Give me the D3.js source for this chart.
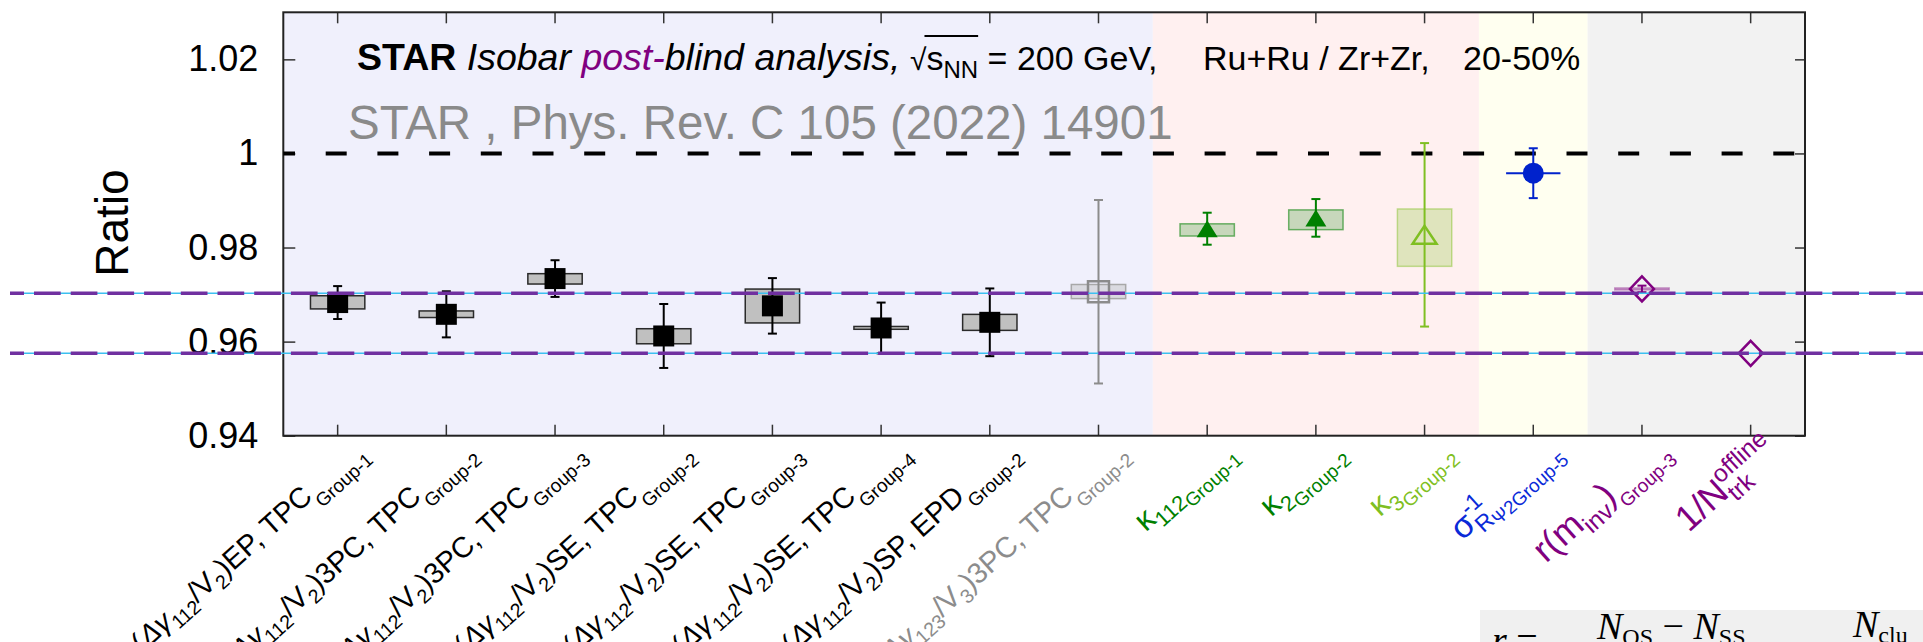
<!DOCTYPE html>
<html>
<head>
<meta charset="utf-8">
<script src="https://cdn.jsdelivr.net/npm/d3@7/dist/d3.min.js"></script>
<style>
  body { margin: 0; background: #fff; }
  svg { display: block; font-family: "Liberation Sans", Arial, Helvetica, sans-serif; }
</style>
</head>
<body>
<script>
// ---- chart data ----
const categories = [
  "g112_EP_TPC_G1", "g112_3PC_TPC_G2", "g112_3PC_TPC_G3", "g112_SE_TPC_G2",
  "g112_SE_TPC_G3", "g112_SE_TPC_G4", "g112_SP_EPD_G2", "g123_3PC_TPC_G2",
  "k112_G1", "k2_G2", "k3_G2", "sigmaR_G5", "rminv_G3", "invNtrk"
];
const family = [
  "gamma", "gamma", "gamma", "gamma", "gamma", "gamma", "gamma", "gamma",
  "kappa", "kappa", "kappa", "sigma", "mult", "mult"
];
const ratio   = [0.9683, 0.9658, 0.9734, 0.9612, 0.9676, 0.9629, 0.9641, 0.9706, 0.9840, 0.9863, 0.9827, 0.9958, 0.9712, 0.9575];
const statErr = [0.0035, 0.0049, 0.0039, 0.0068, 0.0059, 0.0054, 0.0072, 0.0195, 0.0034, 0.0040, 0.0195, 0.0053, 0.0007, 0];
const sysErr  = [0.0014, 0.0007, 0.0011, 0.0016, 0.0036, 0.0003, 0.0017, 0.0015, 0.0013, 0.0021, 0.0061, 0, 0.0002, 0];
const sysMid  = [0.96835, 0.96582, 0.97334, 0.96114, 0.96757, 0.96292, 0.96409, 0.97064, 0.98374, 0.98590, 0.98210, 0.9958, 0.9712, 0.9575];
const yTicks = [0.94, 0.96, 0.98, 1.00, 1.02];
const unityLine = 1.0;
const bandLines = [0.9703, 0.9575];

// tick labels: [text, kind] pieces; kinds: "" normal, "it" italic, "sub", "sup", "subb" (sub drawn back under a sup), "sub2"
const labelParts = [
  [["(", ""], ["Δγ", "it"], ["112", "sub"], ["/V", ""], ["2", "sub"], [")EP, TPC", ""]],
  [["(", ""], ["Δγ", "it"], ["112", "sub"], ["/V", ""], ["2", "sub"], [")3PC, TPC", ""]],
  [["(", ""], ["Δγ", "it"], ["112", "sub"], ["/V", ""], ["2", "sub"], [")3PC, TPC", ""]],
  [["(", ""], ["Δγ", "it"], ["112", "sub"], ["/V", ""], ["2", "sub"], [")SE, TPC", ""]],
  [["(", ""], ["Δγ", "it"], ["112", "sub"], ["/V", ""], ["2", "sub"], [")SE, TPC", ""]],
  [["(", ""], ["Δγ", "it"], ["112", "sub"], ["/V", ""], ["2", "sub"], [")SE, TPC", ""]],
  [["(", ""], ["Δγ", "it"], ["112", "sub"], ["/V", ""], ["2", "sub"], [")SP, EPD", ""]],
  [["(", ""], ["Δγ", "it"], ["123", "sub"], ["/V", ""], ["3", "sub"], [")3PC, TPC", ""]],
  [["κ", ""], ["112", "sub"]],
  [["κ", ""], ["2", "sub"]],
  [["κ", ""], ["3", "sub"]],
  [["σ", ""], ["-1", "sup"], ["R", "subb"], ["Ψ2", "sub2"]],
  [["r(m", ""], ["inv", "sub"], [")", ""]],
  [["1/N", ""], ["offline", "sup"], ["trk", "subb"]]
];
const groupLabels = [
  "Group-1", "Group-2", "Group-3", "Group-2", "Group-3", "Group-4", "Group-2", "Group-2",
  "Group-1", "Group-2", "Group-2", "Group-5", "Group-3", ""
];

const titleBold = "STAR";
const titleItalic1 = " Isobar ";
const titlePurple = "post-";
const titleItalic2 = "blind analysis,";
const titleEnergy = " = 200 GeV,";
const titleSystem = "Ru+Ru / Zr+Zr,";
const titleCentrality = "20-50%";
const refText = "STAR , Phys. Rev. C 105 (2022) 14901";

// ---- layout & style ----
const width = 1923, height = 642;
const plotLeft = 283.3, plotRight = 1805, plotTop = 12.3, plotBottom = 435.7;

const regionColors = { gamma: "#f0f0fc", kappa: "#fff0f0", sigma: "#fffff0", mult: "#f2f2f2" };

const pointStyle = ["solid", "solid", "solid", "solid", "solid", "solid", "solid", "open",
  "greenTri", "greenTri", "limeTri", "blueDot", "purpleDia", "purpleDia"];

const styles = {
  solid:     { marker: "square",   fill: "#000", stroke: "none", bar: "#000", boxFill: "#c0c0c0", boxStroke: "#2a2a2a" },
  open:      { marker: "square",   fill: "none", stroke: "#8c8c8c", bar: "#8c8c8c", boxFill: "rgba(200,200,200,0.55)", boxStroke: "#a8a8a8" },
  greenTri:  { marker: "triangle", fill: "#008000", stroke: "none", bar: "#008000", boxFill: "rgba(0,128,0,0.22)", boxStroke: "rgba(0,128,0,0.55)" },
  limeTri:   { marker: "triangleO", fill: "none", stroke: "#7fbf22", bar: "#7fbf22", boxFill: "rgba(127,191,34,0.25)", boxStroke: "rgba(127,191,34,0.45)" },
  blueDot:   { marker: "circle",   fill: "#0022cc", stroke: "none", bar: "#0022cc", hbar: true },
  purpleDia: { marker: "diamond",  fill: "none", stroke: "#800080", bar: "#800080", boxFill: "rgba(128,0,128,0.25)", boxStroke: "rgba(128,0,128,0.4)" }
};

const labelColors = ["#000", "#000", "#000", "#000", "#000", "#000", "#000", "#8c8c8c",
  "#008000", "#008000", "#7fbf22", "#0a2ad8", "#800080", "#800080"];
const labelSizes = [29, 29, 29, 29, 29, 29, 29, 29, 32, 32, 32, 34, 36, 36];
const labelAngle = -42;
const labelDx = 28, labelY = 452;
const groupFontSize = 19, groupShift = 13;

const markerPaths = {
  square: "M-10.5,-10.5H10.5V10.5H-10.5Z",
  triangle: "M0,-8.5L10.5,8.5H-10.5Z",
  triangleO: "M0,-9L12,9H-12Z",
  diamond: "M0,-12.5L12,0L0,12.5L-12,0Z"
};

// ---- scales ----
const x = d3.scaleBand()
  .domain(d3.range(categories.length))
  .range([plotLeft, plotRight]);
const bw = x.bandwidth();

const y = d3.scaleLinear()
  .domain([0.94, 1.03])
  .range([plotBottom, plotTop]);

const svg = d3.select("body").append("svg")
  .attr("width", width)
  .attr("height", height);

svg.append("rect").attr("width", width).attr("height", height).attr("fill", "#fff");

// shaded family regions
const runs = [];
family.forEach((f, i) => {
  if (runs.length && runs[runs.length - 1].f === f) runs[runs.length - 1].end = i;
  else runs.push({ f, start: i, end: i });
});
svg.append("g")
  .selectAll("rect")
  .data(runs)
  .join("rect")
  .attr("x", d => x(d.start))
  .attr("y", plotTop)
  .attr("width", d => x(d.end) + bw - x(d.start))
  .attr("height", plotBottom - plotTop)
  .attr("fill", d => regionColors[d.f]);

// axes (ticks point inward, frame drawn separately)
function styleAxis(g) {
  g.select(".domain").remove();
  g.selectAll(".tick line").attr("stroke", "#333").attr("stroke-width", 1.5);
}
svg.append("g")
  .attr("transform", `translate(${plotLeft},0)`)
  .call(d3.axisLeft(y).tickValues(yTicks).tickSize(-12).tickPadding(25)
    .tickFormat(d => d === 1 ? "1" : d3.format(".2f")(d)))
  .call(styleAxis)
  .call(g => g.selectAll("text")
    .attr("font-size", 36)
    .attr("font-family", "Liberation Sans, Arial, sans-serif")
    .attr("fill", "#000"));
svg.append("g")
  .attr("transform", `translate(${plotRight},0)`)
  .call(d3.axisRight(y).tickValues(yTicks).tickSize(-10).tickFormat(""))
  .call(styleAxis);
svg.append("g")
  .attr("transform", `translate(0,${plotBottom})`)
  .call(d3.axisBottom(x).tickSize(-11).tickFormat(""))
  .call(styleAxis);
svg.append("g")
  .attr("transform", `translate(0,${plotTop})`)
  .call(d3.axisTop(x).tickSize(-11).tickFormat(""))
  .call(styleAxis);

// frame
svg.append("rect")
  .attr("x", plotLeft).attr("y", plotTop)
  .attr("width", plotRight - plotLeft).attr("height", plotBottom - plotTop)
  .attr("fill", "none").attr("stroke", "#222").attr("stroke-width", 2);

// y axis title
svg.append("text")
  .attr("transform", `translate(128,223) rotate(-90)`)
  .attr("text-anchor", "middle")
  .attr("font-size", 46)
  .text("Ratio");

// title line
const t1 = svg.append("text").attr("x", 357).attr("y", 70).attr("font-size", 37.5);
t1.append("tspan").attr("font-weight", "bold").text(titleBold);
t1.append("tspan").attr("font-style", "italic").text(titleItalic1);
t1.append("tspan").attr("font-style", "italic").attr("fill", "#800080").text(titlePurple);
t1.append("tspan").attr("font-style", "italic").text(titleItalic2);

const t2 = svg.append("text").attr("x", 910).attr("y", 70).attr("font-size", 34);
const root = t2.append("tspan").attr("font-size", 30).text("√");
const sVar = t2.append("tspan").text("s");
const sNN = t2.append("tspan").attr("font-size", 24).attr("dy", 8).text("NN");
t2.append("tspan").attr("dy", -8).text(titleEnergy);
const rootW = root.node().getComputedTextLength();
const ovW = sVar.node().getComputedTextLength() + sNN.node().getComputedTextLength();
svg.append("line")
  .attr("x1", 910 + rootW - 2).attr("x2", 910 + rootW + ovW)
  .attr("y1", 36).attr("y2", 36)
  .attr("stroke", "#000").attr("stroke-width", 1.8);

svg.append("text").attr("x", 1203).attr("y", 70).attr("font-size", 34).text(titleSystem);
svg.append("text").attr("x", 1463).attr("y", 70).attr("font-size", 34).text(titleCentrality);

svg.append("text")
  .attr("x", 348).attr("y", 139)
  .attr("font-size", 47.5)
  .attr("fill", "#8a8a8a")
  .text(refText);

// reference line at unity
svg.append("line")
  .attr("x1", plotLeft).attr("x2", plotRight)
  .attr("y1", y(unityLine)).attr("y2", y(unityLine))
  .attr("stroke", "#000").attr("stroke-width", 4)
  .attr("stroke-dasharray", "21 30.7").attr("stroke-dashoffset", 9.3);

// data points: sys boxes, stat bars, markers
const pts = svg.append("g");
categories.forEach((c, i) => {
  const st = styles[pointStyle[i]];
  const cx = x(i) + bw / 2;
  const g = pts.append("g");
  if (sysErr[i] > 0) {
    g.append("rect")
      .attr("x", cx - bw / 4).attr("width", bw / 2)
      .attr("y", y(sysMid[i] + sysErr[i]))
      .attr("height", y(sysMid[i] - sysErr[i]) - y(sysMid[i] + sysErr[i]))
      .attr("fill", st.boxFill).attr("stroke", st.boxStroke).attr("stroke-width", 1.5);
  }
  if (st.hbar) {
    g.append("line")
      .attr("x1", cx - bw / 4).attr("x2", cx + bw / 4)
      .attr("y1", y(ratio[i])).attr("y2", y(ratio[i]))
      .attr("stroke", st.bar).attr("stroke-width", 2);
  }
  if (statErr[i] > 0) {
    const lo = y(ratio[i] - statErr[i]), hi = y(ratio[i] + statErr[i]);
    g.append("line").attr("x1", cx).attr("x2", cx).attr("y1", lo).attr("y2", hi)
      .attr("stroke", st.bar).attr("stroke-width", 2);
    [lo, hi].forEach(yy => g.append("line")
      .attr("x1", cx - 4.5).attr("x2", cx + 4.5).attr("y1", yy).attr("y2", yy)
      .attr("stroke", st.bar).attr("stroke-width", 2));
  }
  if (st.marker === "circle") {
    g.append("circle").attr("cx", cx).attr("cy", y(ratio[i])).attr("r", 10.5).attr("fill", st.fill);
  } else {
    g.append("path")
      .attr("transform", `translate(${cx},${y(ratio[i])})`)
      .attr("d", markerPaths[st.marker])
      .attr("fill", st.fill)
      .attr("stroke", st.stroke)
      .attr("stroke-width", 2.5);
  }
});

// band lines running across the whole figure
bandLines.forEach(v => {
  svg.append("line")
    .attr("x1", 10).attr("x2", width)
    .attr("y1", y(v)).attr("y2", y(v))
    .attr("stroke", "#3cc0f0").attr("stroke-width", 1.5);
  svg.append("line")
    .attr("x1", 10).attr("x2", width)
    .attr("y1", y(v)).attr("y2", y(v))
    .attr("stroke", "#7030a0").attr("stroke-width", 3.5)
    .attr("stroke-dasharray", "26.7 10").attr("stroke-dashoffset", 12.7);
});

// rotated category labels: each label sits in its own rotated group
const labels = svg.append("g");
labelParts.forEach((parts, i) => {
  const size = labelSizes[i];
  const cx = x(i) + bw / 2;
  const lg = labels.append("g")
    .attr("transform", `translate(${cx + labelDx},${labelY}) rotate(${labelAngle})`);
  const t = lg.append("text")
    .attr("x", 0).attr("y", 0)
    .attr("text-anchor", "end")
    .attr("fill", labelColors[i])
    .attr("font-size", size);
  let shift = 0, prevW = 0;
  const pieces = groupLabels[i] ? parts.concat([[groupLabels[i], "grp"]]) : parts;
  pieces.forEach(([txt, kind]) => {
    let target = 0, fs = size;
    if (kind === "sub" || kind === "subb") { target = size * 0.25; fs = size * 0.68; }
    if (kind === "sub2") { target = size * 0.38; fs = size * 0.55; }
    if (kind === "sup") { target = -size * 0.42; fs = size * 0.68; }
    if (kind === "grp") { target = groupShift; fs = groupFontSize; }
    const ts = t.append("tspan")
      .attr("font-size", fs)
      .attr("dy", target - shift)
      .text(txt);
    if (kind === "it") ts.attr("font-style", "italic");
    if (kind === "subb") ts.attr("dx", -prevW);
    shift = target;
    prevW = ts.node().getComputedTextLength();
  });
});

// clipped formula fragment in the lower right corner
svg.append("rect")
  .attr("x", 1480).attr("y", 610).attr("width", width - 1480).attr("height", 40)
  .attr("fill", "#f0f0f0");
const f = svg.append("g")
  .attr("font-family", "Liberation Serif, DejaVu Serif, serif")
  .attr("font-size", 38);
const f1 = f.append("text").attr("x", 1492).attr("y", 653);
f1.append("tspan").attr("font-style", "italic").text("r");
f1.append("tspan").text(" =");
const f2 = f.append("text").attr("x", 1597).attr("y", 639);
f2.append("tspan").attr("font-style", "italic").text("N");
f2.append("tspan").attr("font-size", 24).attr("dy", 6).text("OS");
f2.append("tspan").attr("dy", -6).text(" − ");
f2.append("tspan").attr("font-style", "italic").text("N");
f2.append("tspan").attr("font-size", 24).attr("dy", 6).text("SS");
const f3 = f.append("text").attr("x", 1853).attr("y", 637);
f3.append("tspan").attr("font-style", "italic").text("N");
f3.append("tspan").attr("font-size", 24).attr("dy", 6).text("clu");
</script>
</body>
</html>
